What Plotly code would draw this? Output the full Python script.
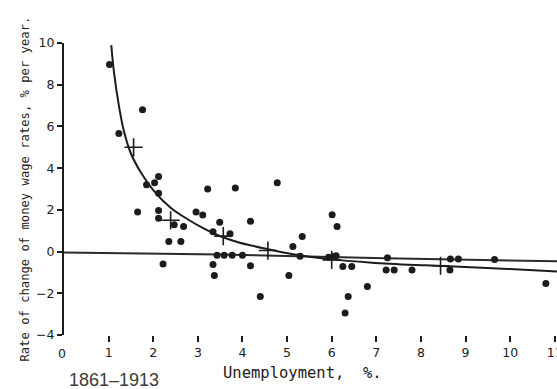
import plotly.graph_objects as go

# Annual observations, 1861-1913: unemployment (%) vs. change of money wage rates (% per year)
unemployment = [
    1.02, 1.23, 1.76, 1.65, 1.85, 2.03, 2.12, 2.12, 2.12, 2.12, 2.22, 2.35, 2.62,
    2.47, 2.68, 2.96, 3.11, 3.22, 3.84, 3.49, 3.34, 3.72, 3.34, 3.37, 3.43, 3.59,
    3.77, 4.0, 4.18, 4.18, 4.4, 4.78, 5.13, 5.34, 5.29, 5.04, 6.01, 6.12, 5.93,
    6.04, 6.1, 6.25, 6.45, 6.8, 6.37, 6.3, 7.25, 7.22, 7.4, 7.8, 8.66, 8.84, 8.65,
    9.65, 10.8,
]
wage_change = [
    8.97, 5.66, 6.8, 1.9, 3.2, 3.3, 3.6, 2.8, 1.97, 1.6, -0.6, 0.48, 0.48,
    1.28, 1.2, 1.9, 1.75, 3.0, 3.05, 1.4, 0.95, 0.85, -0.62, -1.15, -0.18, -0.18,
    -0.18, -0.18, 1.45, -0.68, -2.15, 3.3, 0.24, 0.72, -0.22, -1.15, 1.77, 1.2, -0.27,
    -0.24, -0.2, -0.72, -0.72, -1.68, -2.16, -2.95, -0.3, -0.88, -0.88, -0.88, -0.36,
    -0.36, -0.88, -0.38, -1.53,
]

# Group averages (crosses)
avg_unemployment = [1.56, 2.39, 3.57, 4.57, 6.0, 8.44]
avg_wage_change = [5.0, 1.5, 0.74, 0.05, -0.4, -0.68]

# Fitted curve
curve_x = [1.06, 1.12, 1.23, 1.34, 1.49, 1.72, 2.0, 2.39, 2.77, 3.14, 3.52, 3.9,
           4.6, 5.1, 5.9, 6.9, 8.1, 9.0, 10.0, 11.05]
curve_y = [9.9, 8.6, 7.0, 5.8, 4.75, 3.8, 2.95, 2.1, 1.55, 1.1, 0.72, 0.45,
           0.1, -0.12, -0.35, -0.53, -0.66, -0.74, -0.84, -0.95]

# Near-horizontal reference line
ref_x = [0, 3.5, 7.2, 11.05]
ref_y = [-0.05, -0.14, -0.32, -0.47]

x_ticks = list(range(1, 12))
y_ticks = list(range(-4, 11, 2))

ink = "#1c1c1c"

fig = go.Figure()
fig.add_trace(go.Scatter(x=ref_x, y=ref_y, mode="lines",
                         line=dict(color="#2a2a2a", width=2), hoverinfo="skip"))
fig.add_trace(go.Scatter(x=curve_x, y=curve_y, mode="lines",
                         line=dict(color=ink, width=2, shape="spline"), hoverinfo="skip"))
fig.add_trace(go.Scatter(x=unemployment, y=wage_change, mode="markers",
                         marker=dict(color=ink, size=7), cliponaxis=False))
fig.add_trace(go.Scatter(x=avg_unemployment, y=avg_wage_change, mode="markers",
                         marker=dict(symbol="cross-thin", size=13,
                                     line=dict(color=ink, width=1.6)),
                         cliponaxis=False))

tick_font = dict(family="DejaVu Sans", size=12.5, color=ink)

fig.update_layout(
    width=557, height=389, autosize=False,
    margin=dict(l=64, r=0, t=43, b=54),
    paper_bgcolor="white", plot_bgcolor="white",
    showlegend=False,
    xaxis=dict(range=[0, 11.05], tickvals=x_ticks, ticks="outside", ticklen=6,
               tickwidth=1.5, tickcolor=ink, showline=False, showgrid=False,
               zeroline=False, tickfont=tick_font, automargin=False,
               ticklabeloverflow="allow"),
    yaxis=dict(range=[-4, 10], tickvals=y_ticks, ticks="outside", ticklen=5,
               tickwidth=1.8, tickcolor=ink, showline=True, linewidth=2,
               linecolor=ink, showgrid=False, zeroline=False, tickfont=tick_font,
               automargin=False),
    annotations=[
        dict(text="0", xref="paper", yref="paper", x=-0.005, y=-0.03,
             xanchor="center", yanchor="top", showarrow=False, font=tick_font),
        dict(text="Rate of change of money wage rates, % per year.",
             xref="paper", yref="paper", x=-0.08, y=0.5, textangle=-90,
             xanchor="center", yanchor="middle", showarrow=False,
             font=dict(family="DejaVu Sans Mono", size=12.2, color=ink)),
        dict(text="Unemployment,\u00a0\u00a0%.", xref="paper", yref="paper",
             x=0.318, y=-0.13, xanchor="left", yanchor="middle", showarrow=False,
             font=dict(family="DejaVu Sans Mono", size=15.5, color=ink)),
        dict(text="1861\u20131913", xref="paper", yref="paper", x=0.006, y=-0.155,
             xanchor="left", yanchor="middle", showarrow=False,
             font=dict(family="Liberation Sans", size=18, color="#3a3a3a")),
    ],
)

fig.write_html("out.html")
